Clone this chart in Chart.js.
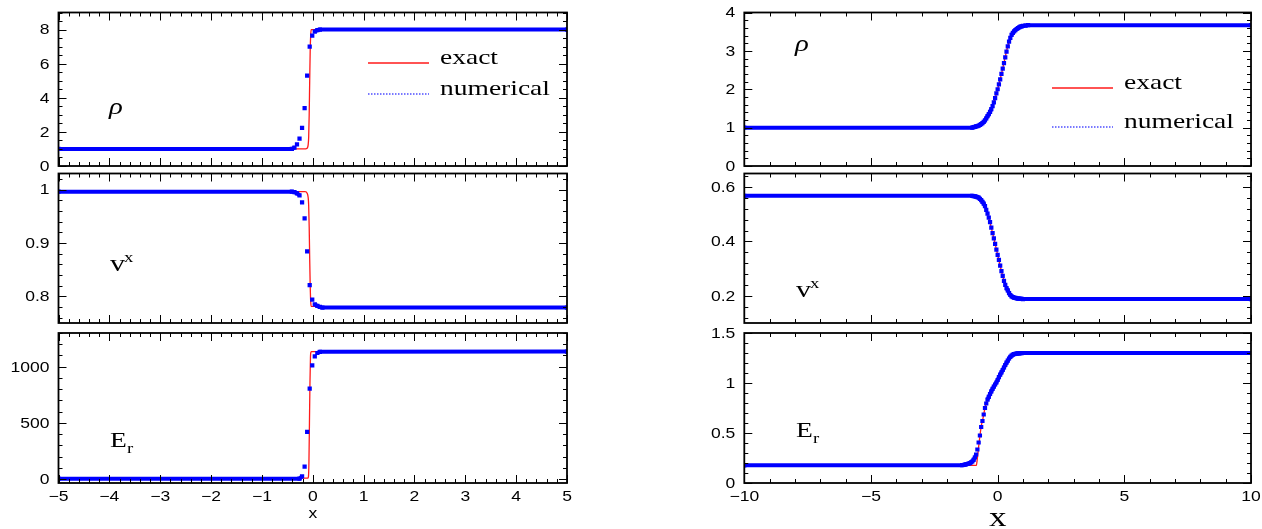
<!DOCTYPE html>
<html>
<head>
<meta charset="utf-8">
<script src="https://cdn.jsdelivr.net/npm/chart.js@4"></script>
<style>
  body { margin: 0; background: #fff; }
  #wrap { position: relative; width: 1262px; height: 529px; }
  #wrap canvas { position: absolute; left: 0; top: 0; }
</style>
</head>
<body>
<div id="wrap">
  <canvas id="rhoL" width="1262" height="529"></canvas>
  <canvas id="vL" width="1262" height="529"></canvas>
  <canvas id="eL" width="1262" height="529"></canvas>
  <canvas id="rhoR" width="1262" height="529"></canvas>
  <canvas id="vR" width="1262" height="529"></canvas>
  <canvas id="eR" width="1262" height="529"></canvas>
</div>
<script>
// tick labels
const xTicksL = [-5, -4, -3, -2, -1, 0, 1, 2, 3, 4, 5];
const rhoTicksL = [0, 2, 4, 6, 8];
const vTicksL = [0.8, 0.9, 1];
const eTicksL = [0, 500, 1000];
const xTicksR = [-10, -5, 0, 5, 10];
const rhoTicksR = [0, 1, 2, 3, 4];
const vTicksR = [0.2, 0.4, 0.6];
const eTicksR = [0, 0.5, 1, 1.5];

// left column: strong shock
const rhoLNumX = [-5, -0.41, -0.36, -0.31, -0.26, -0.21, -0.16, -0.11, -0.06, -0.01, 0.04, 0.09, 0.14, 5];
const rhoLNumY = [1, 1, 1.08, 1.27, 1.6, 2.23, 3.4, 5.3, 7.0, 7.65, 7.88, 7.96, 8.0, 8.0];
const rhoLExX = [-5, -0.16, -0.12, -0.1, -0.09, -0.08, -0.07, -0.06, -0.05, -0.04, -0.03, 5];
const rhoLExY = [1, 1, 1.03, 1.1, 1.25, 1.7, 3.0, 5.0, 6.8, 7.7, 8.0, 8.0];

const vLNumX = [-5, -0.41, -0.36, -0.31, -0.26, -0.21, -0.16, -0.11, -0.06, -0.01, 0.04, 0.09, 0.14, 0.19, 5];
const vLNumY = [0.996, 0.996, 0.995, 0.993, 0.989, 0.976, 0.946, 0.884, 0.821, 0.794, 0.785, 0.782, 0.78, 0.779, 0.779];
const vLExX = [-5, -0.15, -0.11, -0.09, -0.08, -0.07, -0.06, -0.05, -0.04, -0.03, 5];
const vLExY = [0.996, 0.996, 0.993, 0.985, 0.97, 0.93, 0.87, 0.82, 0.79, 0.781, 0.779];

const eLNumX = [-5, -0.26, -0.21, -0.16, -0.11, -0.06, -0.01, 0.04, 0.09, 0.14, 5];
const eLNumY = [3, 3, 25, 110, 420, 805, 1012, 1092, 1122, 1133, 1135];
const eLExX = [-5, -0.1, -0.085, -0.075, -0.065, -0.055, -0.045, -0.035, -0.025, 5];
const eLExY = [8, 8, 20, 150, 500, 850, 1080, 1130, 1135, 1135];

// right column: smooth transition
const rhoRNumX = [-10, -1, -0.95, -0.9, -0.85, -0.8, -0.75, -0.7, -0.65, -0.6, -0.55, -0.5, -0.45, -0.4, -0.35, -0.3, -0.25, -0.2, -0.15, -0.1, -0.05,
  0, 0.05, 0.1, 0.15, 0.2, 0.25, 0.3, 0.35, 0.4, 0.45, 0.5, 0.55, 0.6, 0.65, 0.7, 0.75, 0.8, 0.85, 0.9, 0.95, 1, 1.1, 1.2, 10];
const rhoRNumY = [1, 1, 1.01, 1.02, 1.03, 1.04, 1.05, 1.07, 1.09, 1.12, 1.15, 1.19, 1.24, 1.3, 1.35, 1.41, 1.48, 1.56, 1.66, 1.77, 1.89,
  2.0, 2.13, 2.26, 2.4, 2.54, 2.68, 2.83, 2.98, 3.12, 3.24, 3.34, 3.42, 3.47, 3.51, 3.54, 3.57, 3.59, 3.61, 3.63, 3.64, 3.65, 3.66, 3.67, 3.67];
const rhoRExX = [-10, -1, -0.8, -0.6, -0.4, -0.2, 0, 0.2, 0.4, 0.6, 0.8, 1, 1.2, 10];
const rhoRExY = [1, 1, 1.04, 1.12, 1.3, 1.56, 2.0, 2.54, 3.12, 3.47, 3.59, 3.65, 3.67, 3.67];

const vRNumX = [-10, -1, -0.95, -0.9, -0.85, -0.8, -0.75, -0.7, -0.65, -0.6, -0.55, -0.5, -0.45, -0.4, -0.35, -0.3, -0.25, -0.2, -0.15, -0.1, -0.05,
  0, 0.05, 0.1, 0.15, 0.2, 0.25, 0.3, 0.35, 0.4, 0.45, 0.5, 0.55, 0.6, 0.65, 0.7, 0.75, 0.8, 0.85, 0.9, 0.95, 1, 10];
const vRNumY = [0.568, 0.568, 0.567, 0.566, 0.565, 0.563, 0.561, 0.557, 0.552, 0.546, 0.539, 0.53, 0.516, 0.502, 0.488, 0.471, 0.451, 0.431, 0.411, 0.391, 0.37,
  0.351, 0.332, 0.311, 0.291, 0.273, 0.255, 0.24, 0.228, 0.22, 0.21, 0.203, 0.198, 0.195, 0.193, 0.192, 0.191, 0.19, 0.19, 0.189, 0.189, 0.188, 0.188];
const vRExX = [-10, -1, -0.8, -0.6, -0.4, -0.2, 0, 0.2, 0.4, 0.6, 0.8, 1, 10];
const vRExY = [0.568, 0.568, 0.563, 0.546, 0.502, 0.431, 0.351, 0.273, 0.22, 0.195, 0.19, 0.188, 0.188];

const eRNumX = [-10, -1.4, -1.35, -1.3, -1.25, -1.2, -1.15, -1.1, -1.05, -1, -0.95, -0.9, -0.85, -0.8, -0.75, -0.7, -0.65, -0.6, -0.55, -0.5, -0.45,
  -0.4, -0.35, -0.3, -0.25, -0.2, -0.15, -0.1, -0.05, 0, 0.05, 0.1, 0.15, 0.2, 0.25, 0.3, 0.35, 0.4, 0.45, 0.5, 0.55, 0.6, 0.65, 0.7, 0.75,
  0.8, 0.85, 0.9, 0.95, 1, 10];
const eRNumY = [0.177, 0.178, 0.18, 0.183, 0.186, 0.19, 0.194, 0.199, 0.206, 0.215, 0.232, 0.255, 0.285, 0.335, 0.405, 0.475, 0.56, 0.62, 0.685, 0.75, 0.795,
  0.833, 0.862, 0.89, 0.917, 0.942, 0.963, 0.985, 1.005, 1.03, 1.058, 1.083, 1.106, 1.13, 1.155, 1.18, 1.203, 1.223, 1.245, 1.262, 1.274, 1.283, 1.289, 1.292, 1.294,
  1.296, 1.297, 1.298, 1.299, 1.3, 1.3];
const eRExX = [-10, -0.84, -0.8, -0.76, -0.72, -0.68, -0.64, -0.6, -0.5, -0.4, -0.2, 0, 0.2, 0.4, 0.6, 0.8, 1, 10];
const eRExY = [0.177, 0.177, 0.25, 0.34, 0.43, 0.51, 0.58, 0.62, 0.75, 0.833, 0.942, 1.03, 1.13, 1.223, 1.283, 1.296, 1.3, 1.3];

const BLUE = '#0000ff';
const RED = '#ff1a1a';
const SX = 1.25; // the original figure is stretched horizontally
const W = 1262, H = 529;

function toPts(xs, ys) { return xs.map((x, i) => ({ x: x, y: ys[i] })); }
function fmt(v) { return v < 0 ? '\u2212' + String(-v) : String(v); }

function txt(ctx, s, x, y, font, align, base) {
  ctx.save();
  ctx.font = font;
  ctx.textAlign = align || 'left';
  ctx.textBaseline = base || 'alphabetic';
  ctx.fillStyle = '#000';
  ctx.translate(x, y);
  ctx.scale(SX, 1);
  ctx.fillText(s, 0, 0);
  ctx.restore();
}

function steps(min, max, step) {
  const out = [];
  for (let k = Math.ceil(min / step - 1e-9); k * step <= max + 1e-9; k++) out.push(+(k * step).toFixed(6));
  return out;
}

const SANS = '14px "Liberation Sans", Arial, sans-serif';
const SERIF = '"Liberation Serif", "Times New Roman", serif';

function drawName(ctx, name, x, y) {
  if (name === 'rho') {
    txt(ctx, '\u03C1', x, y, 'italic 23px ' + SERIF);
  } else if (name === 'v') {
    txt(ctx, 'v', x, y, '24px ' + SERIF);
    txt(ctx, 'x', x + 14, y - 9, '15px ' + SERIF);
  } else {
    txt(ctx, 'E', x, y, '22px ' + SERIF);
    txt(ctx, 'r', x + 17, y + 6, '15px ' + SERIF);
  }
}

const framePlugin = {
  id: 'frame',
  afterDraw(chart) {
    const p = chart.options.plugins.frame;
    const ctx = chart.ctx, a = chart.chartArea;
    const xs = chart.scales.x, ys = chart.scales.y;
    const isMaj = (list, v) => list.some(m => Math.abs(m - v) < 1e-6);
    ctx.save();
    ctx.strokeStyle = '#000';
    ctx.lineWidth = 1;
    ctx.beginPath();
    steps(xs.min, xs.max, p.xMinor).forEach(v => {
      const len = isMaj(p.xTicks, v) ? 8 : 4;
      const px = Math.round(xs.getPixelForValue(v)) + 0.5;
      ctx.moveTo(px, a.bottom); ctx.lineTo(px, a.bottom - len);
      ctx.moveTo(px, a.top); ctx.lineTo(px, a.top + len);
    });
    steps(ys.min, ys.max, p.yMinor).forEach(v => {
      const len = isMaj(p.yTicks, v) ? 8 : 4;
      const py = Math.round(ys.getPixelForValue(v)) + 0.5;
      ctx.moveTo(a.left, py); ctx.lineTo(a.left + len, py);
      ctx.moveTo(a.right, py); ctx.lineTo(a.right - len, py);
    });
    ctx.stroke();
    ctx.lineWidth = 1.8;
    ctx.strokeRect(a.left, a.top, a.right - a.left, a.bottom - a.top);
    ctx.restore();

    p.yTicks.forEach(v => txt(ctx, fmt(v), a.left - 9, ys.getPixelForValue(v) + 1, SANS, 'right', 'middle'));
    if (p.xTitle) {
      p.xTicks.forEach(v => txt(ctx, fmt(v), xs.getPixelForValue(v), a.bottom + 14, SANS, 'center', 'middle'));
      const cx = (a.left + a.right) / 2;
      if (p.xTitle === 'small') txt(ctx, 'x', cx, a.bottom + 31, SANS, 'center', 'middle');
      else txt(ctx, 'x', cx, a.bottom + 43, '28px ' + SERIF, 'center', 'alphabetic');
    }
    drawName(ctx, p.name, p.namePos[0], p.namePos[1]);

    if (p.legend) {
      const [lx, y1, y2] = p.legend;
      ctx.save();
      ctx.lineWidth = 1.3;
      ctx.strokeStyle = RED;
      ctx.beginPath(); ctx.moveTo(lx, y1); ctx.lineTo(lx + 61, y1); ctx.stroke();
      ctx.strokeStyle = '#4d4dff';
      ctx.setLineDash([1.5, 1.5]);
      ctx.beginPath(); ctx.moveTo(lx, y2); ctx.lineTo(lx + 61, y2); ctx.stroke();
      ctx.restore();
      txt(ctx, 'exact', lx + 72, y1 + 1, '22px ' + SERIF);
      txt(ctx, 'numerical', lx + 72, y2 + 1, '22px ' + SERIF);
    }
  }
};

const panels = [
  { id: 'rhoL', area: [58.5, 12.5, 567, 166], x: [-5, 5], y: [0, 9], xTicks: xTicksL, xMinor: 0.2, yTicks: rhoTicksL, yMinor: 0.5,
    num: [rhoLNumX, rhoLNumY], exact: [rhoLExX, rhoLExY], name: 'rho', namePos: [109, 114], legend: [368, 63, 94] },
  { id: 'vL', area: [58.5, 173.5, 567, 323], x: [-5, 5], y: [0.75, 1.03], xTicks: xTicksL, xMinor: 0.2, yTicks: vTicksL, yMinor: 0.02,
    num: [vLNumX, vLNumY], exact: [vLExX, vLExY], name: 'v', namePos: [110, 271] },
  { id: 'eL', area: [58.5, 333, 567, 483], x: [-5, 5], y: [-35, 1300], xTicks: xTicksL, xMinor: 0.2, yTicks: eTicksL, yMinor: 100,
    num: [eLNumX, eLNumY], exact: [eLExX, eLExY], name: 'E', namePos: [110, 447], xTitle: 'small' },
  { id: 'rhoR', area: [744.3, 12.5, 1251, 166], x: [-10, 10], y: [0, 4], xTicks: xTicksR, xMinor: 1, yTicks: rhoTicksR, yMinor: 0.2,
    num: [rhoRNumX, rhoRNumY], exact: [rhoRExX, rhoRExY], name: 'rho', namePos: [795, 51], legend: [1052, 88, 127] },
  { id: 'vR', area: [744.3, 173.5, 1251, 323], x: [-10, 10], y: [0.1, 0.65], xTicks: xTicksR, xMinor: 1, yTicks: vTicksR, yMinor: 0.04,
    num: [vRNumX, vRNumY], exact: [vRExX, vRExY], name: 'v', namePos: [796, 297] },
  { id: 'eR', area: [744.3, 333, 1251, 483], x: [-10, 10], y: [0, 1.5], xTicks: xTicksR, xMinor: 1, yTicks: eTicksR, yMinor: 0.1,
    num: [eRNumX, eRNumY], exact: [eRExX, eRExY], name: 'E', namePos: [796, 437], xTitle: 'big' }
];

panels.forEach(p => {
  new Chart(document.getElementById(p.id), {
    type: 'line',
    data: {
      datasets: [{
        label: 'numerical',
        data: toPts(p.num[0], p.num[1]),
        borderColor: BLUE,
        backgroundColor: BLUE,
        borderWidth: 4,
        pointStyle: 'rect',
        pointRadius: 3,
        pointBorderWidth: 0,
        pointBackgroundColor: BLUE,
        segment: {
          borderColor: c => Math.abs(c.p1.y - c.p0.y) > 3 ? 'rgba(0,0,0,0)' : BLUE
        },
        order: 0
      }, {
        label: 'exact',
        data: toPts(p.exact[0], p.exact[1]),
        borderColor: RED,
        borderWidth: 1.3,
        pointRadius: 0,
        cubicInterpolationMode: 'monotone',
        order: 1
      }]
    },
    options: {
      responsive: false,
      devicePixelRatio: 1,
      animation: false,
      events: [],
      layout: {
        padding: { left: p.area[0], top: p.area[1], right: W - p.area[2], bottom: H - p.area[3] }
      },
      scales: {
        x: { type: 'linear', display: false, min: p.x[0], max: p.x[1] },
        y: { type: 'linear', display: false, min: p.y[0], max: p.y[1] }
      },
      plugins: {
        legend: { display: false },
        tooltip: { enabled: false },
        frame: p
      }
    },
    plugins: [framePlugin]
  });
});
</script>
</body>
</html>
